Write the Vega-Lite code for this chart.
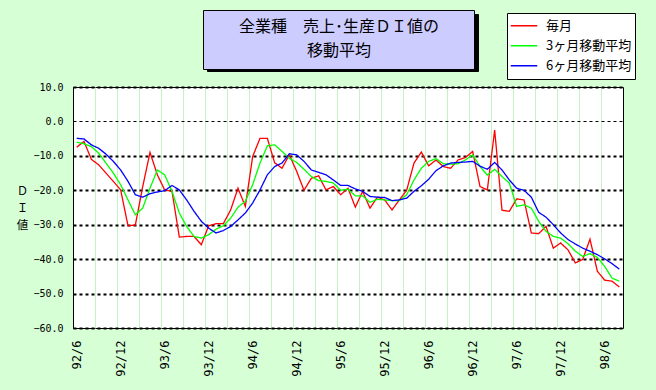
{
  "$schema": "https://vega.github.io/schema/vega-lite/v6.json",
  "width": 550,
  "height": 241,
  "autosize": {"type": "none"},
  "padding": {"left": 73, "top": 87, "right": 33, "bottom": 62},
  "background": "#D6FFD6",
  "config": {"view": {"fill": "white", "stroke": "black", "strokeWidth": 1}},
  "data": {"values": [
    {"month": "92/6", "毎月": -7.5, "3ヶ月移動平均": -6.0, "6ヶ月移動平均": -4.9},
    {"month": "92/7", "毎月": -5.8, "3ヶ月移動平均": -6.5, "6ヶ月移動平均": -5.1},
    {"month": "92/8", "毎月": -11.0, "3ヶ月移動平均": -7.3, "6ヶ月移動平均": -6.8},
    {"month": "92/9", "毎月": -12.6, "3ヶ月移動平均": -9.2, "6ヶ月移動平均": -7.8},
    {"month": "92/10", "毎月": -15.0, "3ヶ月移動平均": -12.1, "6ヶ月移動平均": -9.5},
    {"month": "92/11", "毎月": -17.4, "3ヶ月移動平均": -15.0, "6ヶ月移動平均": -11.6},
    {"month": "92/12", "毎月": -19.9, "3ヶ月移動平均": -18.4, "6ヶ月移動平均": -14.1},
    {"month": "93/1", "毎月": -30.3, "3ヶ月移動平均": -22.8, "6ヶ月移動平均": -17.4},
    {"month": "93/2", "毎月": -30.1, "3ヶ月移動平均": -27.1, "6ヶ月移動平均": -21.3},
    {"month": "93/3", "毎月": -19.0, "3ヶ月移動平均": -25.2, "6ヶ月移動平均": -22.0},
    {"month": "93/4", "毎月": -9.0, "3ヶ月移動平均": -19.4, "6ヶ月移動平均": -21.0},
    {"month": "93/5", "毎月": -15.5, "3ヶ月移動平均": -14.1, "6ヶ月移動平均": -20.5},
    {"month": "93/6", "毎月": -19.9, "3ヶ月移動平均": -15.5, "6ヶ月移動平均": -20.1},
    {"month": "93/7", "毎月": -20.3, "3ヶ月移動平均": -20.3, "6ヶ月移動平均": -18.6},
    {"month": "93/8", "毎月": -33.6, "3ヶ月移動平均": -26.6, "6ヶ月移動平均": -19.9},
    {"month": "93/9", "毎月": -33.4, "3ヶ月移動平均": -30.5, "6ヶ月移動平均": -22.8},
    {"month": "93/10", "毎月": -33.4, "3ヶ月移動平均": -33.4, "6ヶ月移動平均": -26.1},
    {"month": "93/11", "毎月": -35.8, "3ヶ月移動平均": -33.9, "6ヶ月移動平均": -29.0},
    {"month": "93/12", "毎月": -30.3, "3ヶ月移動平均": -32.9, "6ヶ月移動平均": -31.0},
    {"month": "94/1", "毎月": -29.7, "3ヶ月移動平均": -31.3, "6ヶ月移動平均": -32.4},
    {"month": "94/2", "毎月": -29.7, "3ヶ月移動平均": -30.3, "6ヶ月移動平均": -31.7},
    {"month": "94/3", "毎月": -25.7, "3ヶ月移動平均": -28.1, "6ヶ月移動平均": -30.5},
    {"month": "94/4", "毎月": -19.4, "3ヶ月移動平均": -24.9, "6ヶ月移動平均": -28.6},
    {"month": "94/5", "毎月": -24.7, "3ヶ月移動平均": -23.2, "6ヶ月移動平均": -26.6},
    {"month": "94/6", "毎月": -10.2, "3ヶ月移動平均": -18.4, "6ヶ月移動平均": -23.7},
    {"month": "94/7", "毎月": -4.9, "3ヶ月移動平均": -12.1, "6ヶ月移動平均": -19.9},
    {"month": "94/8", "毎月": -4.9, "3ヶ月移動平均": -7.1, "6ヶ月移動平均": -15.5},
    {"month": "94/9", "毎月": -12.0, "3ヶ月移動平均": -6.8, "6ヶ月移動平均": -13.1},
    {"month": "94/10", "毎月": -13.6, "3ヶ月移動平均": -8.7, "6ヶ月移動平均": -12.1},
    {"month": "94/11", "毎月": -9.7, "3ヶ月移動平均": -10.7, "6ヶ月移動平均": -9.4},
    {"month": "94/12", "毎月": -14.5, "3ヶ月移動平均": -11.9, "6ヶ月移動平均": -9.7},
    {"month": "95/1", "毎月": -20.0, "3ヶ月移動平均": -13.9, "6ヶ月移動平均": -11.6},
    {"month": "95/2", "毎月": -16.5, "3ヶ月移動平均": -16.0, "6ヶ月移動平均": -14.1},
    {"month": "95/3", "毎月": -15.8, "3ヶ月移動平均": -17.2, "6ヶ月移動平均": -14.8},
    {"month": "95/4", "毎月": -19.9, "3ヶ月移動平均": -17.4, "6ヶ月移動平均": -15.5},
    {"month": "95/5", "毎月": -18.9, "3ヶ月移動平均": -17.9, "6ヶ月移動平均": -17.0},
    {"month": "95/6", "毎月": -21.3, "3ヶ月移動平均": -20.0, "6ヶ月移動平均": -18.6},
    {"month": "95/7", "毎月": -19.4, "3ヶ月移動平均": -19.7, "6ヶ月移動平均": -18.6},
    {"month": "95/8", "毎月": -24.9, "3ヶ月移動平均": -21.6, "6ヶ月移動平均": -19.6},
    {"month": "95/9", "毎月": -20.3, "3ヶ月移動平均": -21.6, "6ヶ月移動平均": -20.3},
    {"month": "95/10", "毎月": -25.2, "3ヶ月移動平均": -23.5, "6ヶ月移動平均": -21.8},
    {"month": "95/11", "毎月": -22.0, "3ヶ月移動平均": -22.6, "6ヶ月移動平均": -22.0},
    {"month": "95/12", "毎月": -22.8, "3ヶ月移動平均": -22.8, "6ヶ月移動平均": -22.1},
    {"month": "96/1", "毎月": -25.7, "3ヶ月移動平均": -23.0, "6ヶ月移動平均": -23.0},
    {"month": "96/2", "毎月": -22.8, "3ヶ月移動平均": -23.0, "6ヶ月移動平均": -22.8},
    {"month": "96/3", "毎月": -20.0, "3ヶ月移動平均": -21.3, "6ヶ月移動平均": -22.3},
    {"month": "96/4", "毎月": -12.1, "3ヶ月移動平均": -17.0, "6ヶ月移動平均": -20.3},
    {"month": "96/5", "毎月": -8.9, "3ヶ月移動平均": -13.6, "6ヶ月移動平均": -18.7},
    {"month": "96/6", "毎月": -12.9, "3ヶ月移動平均": -11.6, "6ヶ月移動平均": -16.8},
    {"month": "96/7", "毎月": -11.2, "3ヶ月移動平均": -10.8, "6ヶ月移動平均": -14.3},
    {"month": "96/8", "毎月": -13.1, "3ヶ月移動平均": -12.3, "6ヶ月移動平均": -12.9},
    {"month": "96/9", "毎月": -13.6, "3ヶ月移動平均": -12.4, "6ヶ月移動平均": -12.1},
    {"month": "96/10", "毎月": -11.2, "3ヶ月移動平均": -12.3, "6ヶ月移動平均": -11.9},
    {"month": "96/11", "毎月": -10.5, "3ヶ月移動平均": -11.2, "6ヶ月移動平均": -11.8},
    {"month": "96/12", "毎月": -8.7, "3ヶ月移動平均": -9.7, "6ヶ月移動平均": -11.6},
    {"month": "97/1", "毎月": -18.9, "3ヶ月移動平均": -13.1, "6ヶ月移動平均": -13.0},
    {"month": "97/2", "毎月": -19.9, "3ヶ月移動平均": -15.6, "6ヶ月移動平均": -13.9},
    {"month": "97/3", "毎月": -2.5, "3ヶ月移動平均": -13.9, "6ヶ月移動平均": -11.9},
    {"month": "97/4", "毎月": -25.8, "3ヶ月移動平均": -16.0, "6ヶ月移動平均": -14.1},
    {"month": "97/5", "毎月": -26.1, "3ヶ月移動平均": -17.9, "6ヶ月移動平均": -17.0},
    {"month": "97/6", "毎月": -22.5, "3ヶ月移動平均": -24.7, "6ヶ月移動平均": -19.4},
    {"month": "97/7", "毎月": -22.8, "3ヶ月移動平均": -24.2, "6ヶ月移動平均": -20.0},
    {"month": "97/8", "毎月": -32.4, "3ヶ月移動平均": -25.2, "6ヶ月移動平均": -22.0},
    {"month": "97/9", "毎月": -32.6, "3ヶ月移動平均": -29.0, "6ヶ月移動平均": -26.4},
    {"month": "97/10", "毎月": -30.5, "3ヶ月移動平均": -31.9, "6ヶ月移動平均": -27.8},
    {"month": "97/11", "毎月": -36.8, "3ヶ月移動平均": -33.4, "6ヶ月移動平均": -30.0},
    {"month": "97/12", "毎月": -35.3, "3ヶ月移動平均": -33.9, "6ヶ月移動平均": -32.4},
    {"month": "98/1", "毎月": -37.3, "3ヶ月移動平均": -35.5, "6ヶ月移動平均": -34.3},
    {"month": "98/2", "毎月": -41.1, "3ヶ月移動平均": -37.7, "6ヶ月移動平均": -35.6},
    {"month": "98/3", "毎月": -40.1, "3ヶ月移動平均": -39.2, "6ヶ月移動平均": -36.8},
    {"month": "98/4", "毎月": -34.2, "3ヶ月移動平均": -38.4, "6ヶ月移動平均": -37.7},
    {"month": "98/5", "毎月": -43.5, "3ヶ月移動平均": -39.5, "6ヶ月移動平均": -38.7},
    {"month": "98/6", "毎月": -46.1, "3ヶ月移動平均": -42.1, "6ヶ月移動平均": -39.9},
    {"month": "98/7", "毎月": -46.4, "3ヶ月移動平均": -45.5, "6ヶ月移動平均": -41.3},
    {"month": "98/8", "毎月": -48.1, "3ヶ月移動平均": -46.4, "6ヶ月移動平均": -42.9}
  ]},
  "transform": [{"fold": ["毎月", "3ヶ月移動平均", "6ヶ月移動平均"], "as": ["series", "value"]}],
  "mark": {"type": "line", "strokeWidth": 1.3},
  "encoding": {
    "x": {
      "field": "month", "type": "ordinal", "sort": null,
      "scale": {"type": "point", "padding": 0.5},
      "axis": {
        "title": null,
        "values": ["92/6","92/9","92/12","93/3","93/6","93/9","93/12","94/3","94/6","94/9","94/12","95/3","95/6","95/9","95/12","96/3","96/6","96/9","96/12","97/3","97/6","97/9","97/12","98/3","98/6"],
        "tickOffset": -3.667,
        "labelOffset": 3.667,
        "ticks": false,
        "domain": false,
        "grid": true,
        "gridColor": "#C4F4C4",
        "gridWidth": 1,
        "gridOpacity": {"condition": {"test": "datum.value === '92/6'", "value": 0}, "value": 1},
        "labelAngle": -90,
        "labelExpr": "(slice(datum.value, -2) === '/6' || slice(datum.value, -3) === '/12') ? datum.value : ''",
        "labelFont": "DejaVu Sans Mono",
        "labelFontSize": 12,
        "labelColor": "black",
        "labelPadding": 12
      }
    },
    "y": {
      "field": "value", "type": "quantitative",
      "scale": {"domain": [-60, 10], "nice": false},
      "axis": {
        "values": [-60, -50, -40, -30, -20, -10, 0, 10],
        "format": ".1f",
        "title": ["Ｄ", "Ｉ", "値"],
        "titleAngle": 0,
        "titleX": -51,
        "titleY": 104,
        "titleAlign": "center",
        "titleBaseline": "middle",
        "titleFont": "Noto Sans CJK JP",
        "titleFontSize": 11.5,
        "titleFontWeight": "normal",
        "titleColor": "black",
        "titleLineHeight": 17,
        "ticks": false,
        "domain": true,
        "domainColor": "black",
        "labelPadding": 10,
        "labelFont": "DejaVu Sans Mono",
        "labelFontSize": 10,
        "labelColor": "black",
        "grid": true,
        "gridColor": "black",
        "gridDash": [3, 3],
        "gridOpacity": 1,
        "gridWidth": {"condition": {"test": "datum.value === 0", "value": 1}, "value": 2}
      }
    },
    "color": {
      "field": "series", "type": "nominal",
      "scale": {"domain": ["毎月", "3ヶ月移動平均", "6ヶ月移動平均"], "range": ["#FF0000", "#00FF00", "#0000FF"]},
      "legend": {
        "title": null,
        "orient": "none",
        "legendX": 434,
        "legendY": -74,
        "fillColor": "white",
        "strokeColor": "black",
        "padding": 3,
        "symbolType": "stroke",
        "symbolSize": 700,
        "symbolStrokeWidth": 1.3,
        "clipHeight": 19.5,
        "rowPadding": 0,
        "labelFont": "Noto Sans CJK JP",
        "labelFontSize": 13,
        "labelColor": "black",
        "labelOffset": 8,
        "zindex": 2
      }
    },
    "strokeDash": {
      "datum": "t", "type": "nominal",
      "scale": {"range": [[1, 0]]},
      "legend": {
        "title": ["全業種　売上･生産ＤＩ値の", "移動平均"],
        "orient": "none",
        "legendX": 130,
        "legendY": -77,
        "fillColor": "#CCCCFF",
        "strokeColor": "black",
        "padding": 9,
        "titleFont": "Noto Sans CJK JP",
        "titleFontSize": 16,
        "titleFontWeight": "normal",
        "titleColor": "black",
        "titleAlign": "center",
        "titleAnchor": "middle",
        "titleLineHeight": 23.5,
        "titleLimit": 600,
        "titlePadding": 0,
        "symbolOpacity": 0,
        "symbolSize": 1,
        "clipHeight": 1,
        "labelExpr": "''",
        "labelFontSize": 1,
        "labelOffset": 250,
        "zindex": 2
      }
    },
    "opacity": {
      "datum": "s", "type": "ordinal",
      "scale": {"range": [1]},
      "legend": {
        "title": null,
        "orient": "none",
        "legendX": 134,
        "legendY": -73,
        "fillColor": "#000000",
        "strokeColor": "#000000",
        "padding": 0,
        "symbolOpacity": 0,
        "symbolSize": 1,
        "clipHeight": 57,
        "labelExpr": "''",
        "labelFontSize": 1,
        "labelOffset": 268,
        "zindex": 1
      }
    }
  }
}
